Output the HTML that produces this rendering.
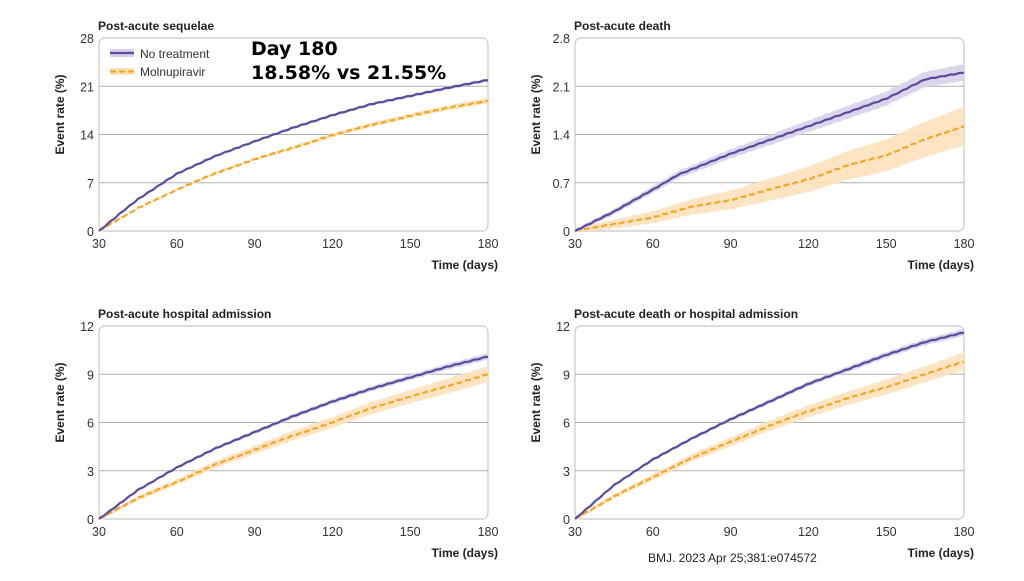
<!DOCTYPE html>
<html><head><meta charset="utf-8"><style>
body{margin:0;background:#fff;width:1024px;height:576px;overflow:hidden;font-family:"Liberation Sans",sans-serif}
</style></head><body>
<svg id="s" width="1024" height="576" xmlns="http://www.w3.org/2000/svg" font-family="Liberation Sans, sans-serif">
<text x="648" y="562" font-size="12" fill="#222">BMJ. 2023 Apr 25;381:e074572</text>
</svg>
<script>
const S=document.getElementById('s');const NS='http://www.w3.org/2000/svg';
function el(t,a,txt){const e=document.createElementNS(NS,t);for(const k in a)e.setAttribute(k,a[k]);if(txt!==undefined)e.textContent=txt;S.appendChild(e);return e;}
function interp(pts,d){for(let i=1;i<pts.length;i++){if(d<=pts[i][0]){const a=pts[i-1],b=pts[i];return a[1]+(b[1]-a[1])*(d-a[0])/(b[0]-a[0]);}}return pts[pts.length-1][1];}
const panels=[
{x0:99,x1:488,y0:38,y1:231,max:28,ticks:['0','7','14','21','28'],title:'Post-acute sequelae',
 p:[[30,0],[38,2.5],[45,4.6],[60,8.3],[75,10.9],[90,13],[105,15],[120,16.8],[135,18.4],[150,19.6],[165,20.8],[180,21.9]],pb:[0.1,0.25],
 o:[[30,0],[38,1.8],[45,3.3],[60,6],[75,8.4],[90,10.4],[105,12.1],[120,13.9],[135,15.4],[150,16.7],[165,17.9],[180,18.9]],ob:[0.1,0.4]},
{x0:575,x1:964,y0:38,y1:231,max:2.8,ticks:['0','0.7','1.4','2.1','2.8'],title:'Post-acute death',
 p:[[30,0],[45,0.28],[60,0.6],[70,0.82],[90,1.12],[105,1.32],[120,1.52],[135,1.72],[150,1.92],[165,2.2],[180,2.3]],pb:[0.03,0.12],
 o:[[30,0],[45,0.1],[60,0.2],[75,0.35],[90,0.45],[105,0.6],[120,0.75],[135,0.95],[150,1.1],[165,1.33],[180,1.52]],ob:[0.04,0.28]},
{x0:99,x1:488,y0:326,y1:519,max:12,ticks:['0','3','6','9','12'],title:'Post-acute hospital admission',
 p:[[30,0],[45,1.8],[60,3.2],[75,4.4],[90,5.4],[105,6.4],[120,7.3],[135,8.1],[150,8.8],[165,9.5],[180,10.1]],pb:[0.05,0.2],
 o:[[30,0],[45,1.3],[60,2.3],[75,3.4],[90,4.3],[105,5.2],[120,6.0],[135,6.9],[150,7.6],[165,8.3],[180,9.0]],ob:[0.1,0.5]},
{x0:575,x1:964,y0:326,y1:519,max:12,ticks:['0','3','6','9','12'],title:'Post-acute death or hospital admission',
 p:[[30,0],[45,2.1],[60,3.7],[75,5.0],[90,6.2],[105,7.3],[120,8.4],[135,9.3],[150,10.2],[165,11.0],[180,11.6]],pb:[0.05,0.22],
 o:[[30,0],[45,1.4],[60,2.6],[75,3.8],[90,4.8],[105,5.8],[120,6.7],[135,7.5],[150,8.2],[165,9.0],[180,9.8]],ob:[0.1,0.55]}
];
panels.forEach(P=>{
 const X=d=>P.x0+(d-30)*(P.x1-P.x0)/150, Y=v=>P.y1-v*(P.y1-P.y0)/P.max;
 el('rect',{x:P.x0,y:P.y0,width:P.x1-P.x0,height:P.y1-P.y0,rx:6,fill:'#fff',stroke:'#c8c8c8','stroke-width':1.2});
 for(let i=1;i<4;i++){const y=P.y1-i*(P.y1-P.y0)/4;el('line',{x1:P.x0,x2:P.x1,y1:y,y2:y,stroke:'#b0b0b0','stroke-width':1});}
 P.ticks.forEach((t,i)=>{const y=P.y1-i*(P.y1-P.y0)/4;el('text',{x:P.x0-5,y:y+5,'font-size':12.5,'text-anchor':'end',fill:'#333'},t);});
 [30,60,90,120,150,180].forEach(d=>el('text',{x:X(d),y:P.y1+17,'font-size':12.5,'text-anchor':'middle',fill:'#333'},d));
 el('text',{x:P.x1+10,y:P.y1+38,'font-size':12,'font-weight':'bold','text-anchor':'end',fill:'#222'},'Time (days)');
 el('text',{x:P.x0-1,y:P.y0-8,'font-size':12,'font-weight':'bold',fill:'#222'},P.title);
 const ly=(P.y0+P.y1)/2-20;
 el('text',{x:0,y:0,'font-size':12,'font-weight':'bold',fill:'#222','text-anchor':'middle',transform:`translate(${P.x0-35},${ly}) rotate(-90)`},'Event rate (%)');
 [['o','#fde2bd','#f5a623',true],['p','#d8d0ea','#5b4a9e',false]].forEach(([k,bc,lc,dash])=>{
  const pts=P[k],b=P[k+'b'];let up=[],dn=[],ln=[];
  for(let d=30;d<=180;d+=1){let v=interp(pts,d);const j=d>30?Math.sin(d*1.7)*P.max*0.002:0;v=Math.max(0,v+j);const w=b[0]+(b[1]-b[0])*(d-30)/150;
   up.push(X(d).toFixed(1)+','+Y(v+w).toFixed(1));dn.unshift(X(d).toFixed(1)+','+Y(Math.max(0,v-w)).toFixed(1));ln.push(X(d).toFixed(1)+','+Y(v).toFixed(1));}
  el('polygon',{points:up.concat(dn).join(' '),fill:bc,opacity:0.9});
  const a={points:ln.join(' '),fill:'none',stroke:lc,'stroke-width':2.2};if(dash)a['stroke-dasharray']='6,3';
  el('polyline',a);
 });
});
el('rect',{x:110,y:49,width:24,height:8,fill:'#d8d0ea'});
el('line',{x1:110,x2:134,y1:53,y2:53,stroke:'#5b4a9e','stroke-width':2.2});
el('text',{x:140,y:58,'font-size':12,fill:'#333'},'No treatment');
el('rect',{x:110,y:68,width:24,height:7,fill:'#fde2bd'});
el('line',{x1:110,x2:134,y1:71.5,y2:71.5,stroke:'#f5a623','stroke-width':2.2,'stroke-dasharray':'6,3'});
el('text',{x:140,y:76,'font-size':12,fill:'#333'},'Molnupiravir');
el('text',{x:251,y:55,'font-size':19,'font-weight':'bold',fill:'#000','font-family':'DejaVu Sans, sans-serif'},'Day 180');
el('text',{x:251,y:79,'font-size':19,'font-weight':'bold',fill:'#000','font-family':'DejaVu Sans, sans-serif'},'18.58% vs 21.55%');
</script>
</body></html>
